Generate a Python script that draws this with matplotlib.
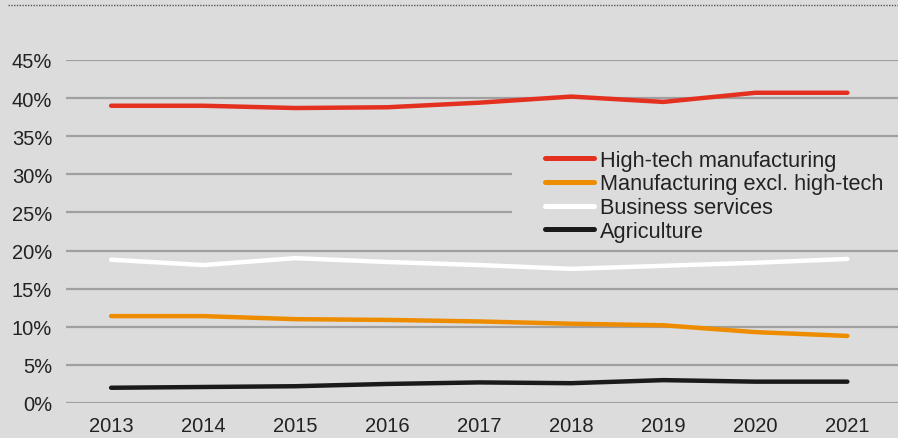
import matplotlib
matplotlib.use("Agg")
import matplotlib.pyplot as plt
from matplotlib.lines import Line2D
from matplotlib.patches import Rectangle
from matplotlib.ticker import FuncFormatter

years = [2013, 2014, 2015, 2016, 2017, 2018, 2019, 2020, 2021]
high_tech = [39.0, 39.0, 38.7, 38.8, 39.4, 40.2, 39.5, 40.7, 40.7]
manuf_excl = [11.4, 11.4, 11.0, 10.9, 10.7, 10.4, 10.2, 9.3, 8.8]
business = [18.8, 18.1, 19.0, 18.5, 18.1, 17.6, 18.0, 18.4, 18.9]
agriculture = [2.0, 2.1, 2.2, 2.5, 2.7, 2.6, 3.0, 2.8, 2.8]
labels = ["High-tech manufacturing", "Manufacturing excl. high-tech",
          "Business services", "Agriculture"]
yticks = [0, 5, 10, 15, 20, 25, 30, 35, 40, 45]

plt.rcParams['font.family'] = ['Liberation Sans', 'DejaVu Sans']
bg = '#dcdcdc'
txt = '#222222'

fig = plt.figure(figsize=(8.98, 4.39), dpi=100, facecolor=bg)
ax = fig.add_axes([66/898, 1-404/439, 1-66/898, (404-61)/439])
ax.set_facecolor(bg)

series = [high_tech, manuf_excl, business, agriculture]
colors = ['#e3301f', '#ee8c00', '#ffffff', '#1a1a1a']
for s, c, l in zip(series, colors, labels):
    ax.plot(years, s, color=c, lw=3.2, label=l, solid_capstyle='round', zorder=3)

ax.set_ylim(0, 45)
ax.set_xlim(2012.51, 2021.55)
ax.set_yticks(yticks)
ax.yaxis.set_major_formatter(FuncFormatter(lambda v, p: f"{int(v)}%"))
ax.set_xticks(years)
ax.grid(axis='y', color='#a0a0a0', lw=1.6, zorder=1)
ax.set_axisbelow(True)
for sp in ax.spines.values():
    sp.set_visible(False)
ax.tick_params(axis='both', length=0, labelsize=14.5, colors=txt)
ax.tick_params(axis='y', pad=10)
ax.tick_params(axis='x', pad=9.5)

# legend background box hiding grid lines
ax.add_patch(Rectangle((512/898, 1-247/439), 1-512/898, 100/439,
                       transform=fig.transFigure, facecolor=bg, edgecolor='none',
                       zorder=2))

leg = ax.legend(loc='upper left', bbox_to_anchor=(545/898, 1-150.5/439),
                bbox_transform=fig.transFigure, frameon=False, fontsize=15.7,
                handlelength=2.25, handletextpad=0.27, labelspacing=0.13,
                borderpad=0, borderaxespad=0)
for t in leg.get_texts():
    t.set_color(txt)
for h in leg.get_lines():
    h.set_linewidth(3.6)

fig.add_artist(Line2D([8/898, 1], [1-6/439, 1-6/439], transform=fig.transFigure,
                      color='#555555', lw=1.0, ls=(0, (1, 1))))

fig.savefig('out.png', dpi=100, facecolor=bg)
